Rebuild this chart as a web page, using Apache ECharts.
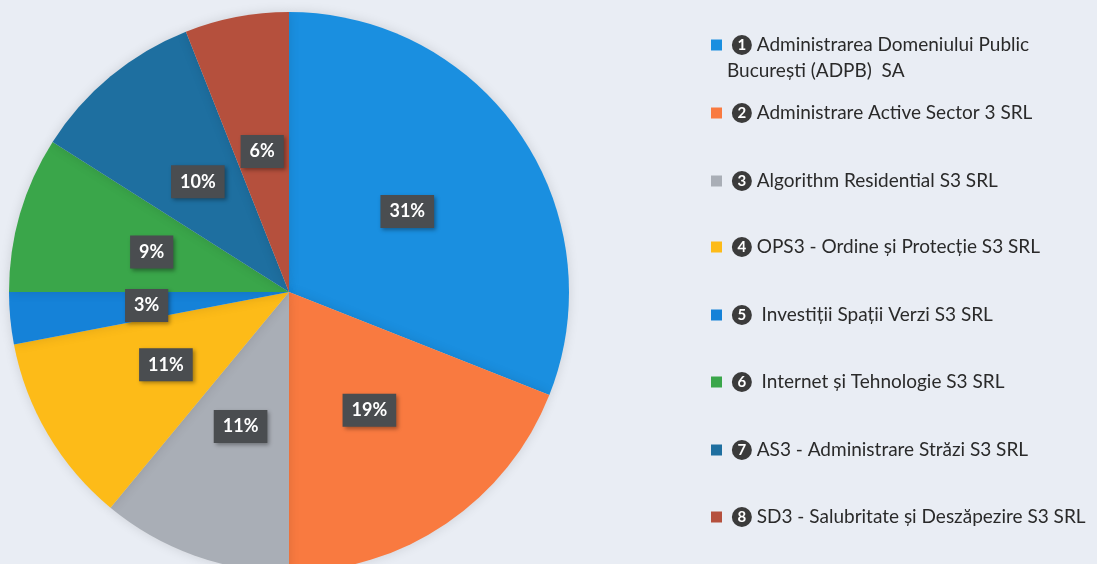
<!DOCTYPE html>
<html>
<head>
<meta charset="utf-8">
<script src="https://cdn.jsdelivr.net/npm/echarts@6/dist/echarts.min.js"></script>
<style>
html,body{margin:0;padding:0;background:#e9edf4;}
#c{width:1097px;height:564px;}
</style>
</head>
<body>
<div id="c"></div>
<script>
const names = [
  'Administrarea Domeniului Public\nBucurești (ADPB)  SA',
  'Administrare Active Sector 3 SRL',
  'Algorithm Residential S3 SRL',
  'OPS3 - Ordine și Protecție S3 SRL',
  ' Investiții Spații Verzi S3 SRL',
  ' Internet și Tehnologie S3 SRL',
  'AS3 - Administrare Străzi S3 SRL',
  'SD3 - Salubritate și Deszăpezire S3 SRL'
];
const numbers = ['1','2','3','4','5','6','7','8'];
const values = [31, 19, 11, 11, 3, 9, 10, 6];
const colors = ['#1a8fe0','#f97a40','#a9aeb6','#fdbb18','#1582d8','#3aa64a','#1e6fa0','#b5503d'];

const chart = echarts.init(document.getElementById('c'));
const font = 'Lato, "Open Sans", sans-serif';
const legendTops = [27, 95, 163, 229, 297, 364, 432, 499];

const legends = names.map((n, i) => ({
  data: [n],
  orient: 'vertical',
  left: 706,
  top: i === 0 ? legendTops[0] - 26 : legendTops[i],
  itemWidth: 11,
  itemHeight: 11,
  icon: 'rect',
  selectedMode: false,
  formatter: function (name) {
    const idx = names.indexOf(name);
    const lines = name.split('\n');
    let s = ' {n|' + numbers[idx] + '} {t|' + lines[0] + '}';
    if (lines.length > 1) {
      s = '{t| }\n' + s + '\n{t|' + lines[1] + '}';
    }
    return s;
  },
  textStyle: {
    fontFamily: font,
    fontSize: 19,
    color: '#2a2a2a',
    lineHeight: 26,
    rich: {
      n: {
        backgroundColor: '#3b3b3b',
        color: '#ffffff',
        borderRadius: 10,
        width: 20,
        height: 20,
        align: 'center',
        fontSize: 15,
        fontWeight: 'bold',
        fontFamily: font,
        lineHeight: 20
      },
      t: {
        fontFamily: font,
        fontSize: 19,
        color: '#2a2a2a',
        lineHeight: 26
      }
    }
  }
}));

chart.setOption({
  backgroundColor: '#e9edf4',
  color: colors,
  legend: legends,
  series: [{
    type: 'pie',
    center: [289, 292],
    radius: [0, 280],
    startAngle: 90,
    clockwise: true,
    avoidLabelOverlap: false,
    animation: false,
    data: names.map((n, i) => ({ name: n, value: values[i] })),
    itemStyle: {
      borderWidth: 0,
      shadowBlur: 12,
      shadowColor: 'rgba(0,0,0,0.12)'
    },
    label: {
      show: true,
      position: 'inside',
      formatter: '{c}%',
      color: '#ffffff',
      fontFamily: font,
      fontWeight: 'bold',
      fontSize: 18,
      backgroundColor: '#4a4d50',
      padding: [8, 9, 7, 9],
      shadowBlur: 4,
      shadowColor: 'rgba(0,0,0,0.35)',
      shadowOffsetX: 2,
      shadowOffsetY: 2
    },
    labelLine: { show: false }
  }]
});
</script>
</body>
</html>
